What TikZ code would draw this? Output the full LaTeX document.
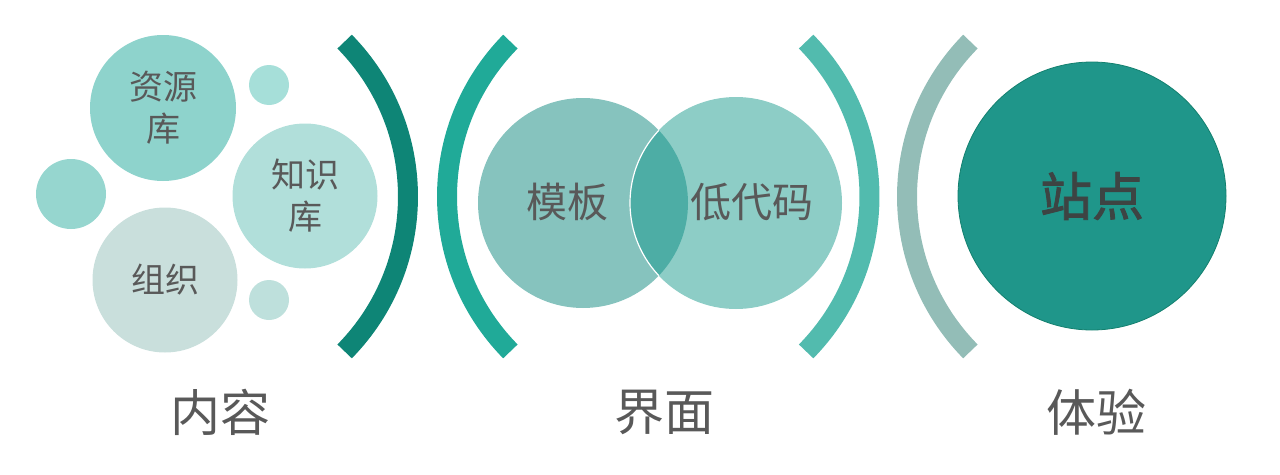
\documentclass[tikz,border=0pt]{standalone}
\usepackage{fontspec}
\setmainfont{Noto Sans CJK SC}
\newfontfamily\sitefont[FakeBold=1.6]{Noto Sans CJK SC}
\usetikzlibrary{positioning}

\definecolor{txtgray}{HTML}{595959}
\definecolor{sitetext}{HTML}{3D4443}
\definecolor{bubRes}{HTML}{8ED3CC}
\definecolor{bubKnow}{HTML}{B1DFDA}
\definecolor{bubOrg}{HTML}{C9DFDC}
\definecolor{bubLeft}{HTML}{96D6CF}
\definecolor{bubTop}{HTML}{A6DFD9}
\definecolor{bubLow}{HTML}{BEE0DC}
\definecolor{brkA}{HTML}{0E8576}
\definecolor{brkB}{HTML}{20AA98}
\definecolor{brkC}{HTML}{52BBAE}
\definecolor{brkD}{HTML}{93BDB7}
\definecolor{tplFill}{HTML}{86C3BE}
\definecolor{lowFill}{HTML}{8DCDC6}
\definecolor{lensFill}{HTML}{4DADA5}
\definecolor{siteFill}{HTML}{1F968A}
\definecolor{siteEdge}{HTML}{13806F}

\tikzset{
  bubble/.style={circle,inner sep=0pt,minimum size=#1},
  word/.style={text=txtgray,align=center,font=\fontsize{34}{42}\selectfont},
  bigword/.style={text=txtgray,font=\fontsize{50}{60}\selectfont},
  arcband/.style={line width=20pt,line cap=butt}
}

\begin{document}
\begin{tikzpicture}[x=1pt,y=-1pt]
  \useasboundingbox (0,0) rectangle (1280,474);
  \node[bubble=146pt,fill=bubRes,word] (res) at (163,108) {资源\\库};
  \node[bubble=40pt,fill=bubTop] (dotTop) at (269,85) {};
  \node[bubble=70pt,fill=bubLeft] (dotLeft) at (71,194) {};
  \node[bubble=145pt,fill=bubKnow,word] (know) at (305,196) {知识\\库};
  \node[bubble=145pt,fill=bubOrg,word] (org) at (165,280) {组织};
  \node[bubble=40pt,fill=bubLow] (dotLow) at (269,300) {};

  \draw[arcband,brkA] (187,196.5) ++(44.5:221) arc[start angle=44.5,end angle=-44.5,radius=221];
  \draw[arcband,brkB] (668,196.5) ++(135.5:221) arc[start angle=135.5,end angle=224.5,radius=221];
  \draw[arcband,brkC] (648.5,196.5) ++(44.5:221) arc[start angle=44.5,end angle=-44.5,radius=221];
  \draw[arcband,brkD] (1128,196.5) ++(135.5:221) arc[start angle=135.5,end angle=224.5,radius=221];

  \node[bubble=210pt,fill=tplFill] (tpl) at (583,203) {};
  \node[bubble=212pt,fill=lowFill] (low) at (736,203) {};
  \begin{scope}
    \clip (tpl.center) circle[radius=105];
    \fill[lensFill,draw=white,line width=1.2pt] (low.center) circle[radius=106];
  \end{scope}
  \node[word,font=\fontsize{41}{48}\selectfont] (tplTxt) at (567,202) {模板};
  \node[word,font=\fontsize{41}{48}\selectfont] (lowTxt) at (752,202) {低代码};

  \node[bubble=268pt,fill=siteFill,draw=siteEdge,line width=0.8pt,text=sitetext,
        font=\fontsize{52}{60}\sitefont] (site) at (1092,196) {站点};

  \node[bigword] (content) at (220,412) {内容};
  \node[bigword] (face) at (664,412) {界面};
  \node[bigword] (exp) at (1096,412) {体验};
\end{tikzpicture}
\end{document}
